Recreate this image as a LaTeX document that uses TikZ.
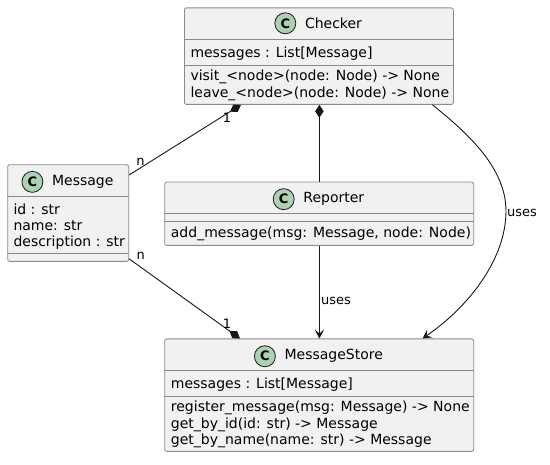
\documentclass[tikz,border=0pt]{standalone}
\usepackage{fontspec}
\setmainfont{DejaVu Sans}
\usetikzlibrary{arrows.meta,calc}
\definecolor{boxfill}{HTML}{F1F1F1}
\definecolor{lineclr}{HTML}{181818}
\definecolor{bordclr}{HTML}{8A8A8A}
\definecolor{circfill}{HTML}{ADD1B2}
\begin{document}
\begin{tikzpicture}[x=1pt,y=-1pt,
  classbox/.style={draw=bordclr, line width=0.8pt, fill=boxfill, rounded corners=2pt, anchor=north west, inner sep=0},
  sepline/.style={draw=bordclr, line width=0.8pt},
  member/.style={anchor=base west, inner sep=0, font=\fontsize{14}{16}\selectfont},
  cname/.style={anchor=base, inner sep=0, font=\fontsize{14}{16}\selectfont},
  cmark/.style={circle, draw=lineclr, line width=0.8pt, fill=circfill, minimum size=21pt, inner sep=0, font=\fontsize{13}{13}\selectfont\bfseries},
  rel/.style={draw=lineclr, line width=0.9pt},
  lbl/.style={inner sep=0, font=\fontsize{13}{13}\selectfont},
  comptip/.tip={Diamond[length=13pt,width=8.5pt]},
  usetip/.tip={Stealth[length=9pt,width=9.5pt,inset=4pt]}
]
\fill[white] (0,0) rectangle (550,465);
\useasboundingbox (0,0) rectangle (550,465);

% ---------- Checker ----------
\node[classbox, minimum width=269pt, minimum height=96.5pt] (checker) at (184,7.5) {};
\draw[sepline] ($(checker.north west)+(0,32)$) -- ($(checker.north east)+(0,32)$);
\draw[sepline] ($(checker.north west)+(0,58)$) -- ($(checker.north east)+(0,58)$);
\node[cname] (checkername) at (333.5,28.5) {Checker};
\node[cmark] (checkermark) at ($(checkername.west)+(-19.5,0)$) {C};
\node[member] (checkerattr) at (190.3,57.1) {messages : List[Message]};
\node[member] (checkerm1) at (190.3,81) {visit\_<node>(node: Node) -> None};
\node[member] (checkerm2) at (190.3,97.3) {leave\_<node>(node: Node) -> None};

% ---------- Message ----------
\node[classbox, minimum width=121pt, minimum height=96.7pt] (message) at (7.3,164.3) {};
\draw[sepline] ($(message.north west)+(0,32.4)$) -- ($(message.north east)+(0,32.4)$);
\draw[sepline] ($(message.north west)+(0,88.7)$) -- ($(message.north east)+(0,88.7)$);
\node[cname] (messagename) at (82.8,185.5) {Message};
\node[cmark] (messagemark) at ($(messagename.west)+(-19.5,0)$) {C};
\node[member] (messagea1) at (13.3,214.3) {id : str};
\node[member] (messagea2) at (13.3,230.6) {name: str};
\node[member] (messagea3) at (13.3,246.9) {description : str};

% ---------- Reporter ----------
\node[classbox, minimum width=309pt, minimum height=63.3pt] (reporter) at (164.3,181.7) {};
\draw[sepline] ($(reporter.north west)+(0,31.8)$) -- ($(reporter.north east)+(0,31.8)$);
\draw[sepline] ($(reporter.north west)+(0,39.8)$) -- ($(reporter.north east)+(0,39.8)$);
\node[cname] (reportername) at (333.8,202.8) {Reporter};
\node[cmark] (reportermark) at ($(reportername.west)+(-19.5,0)$) {C};
\node[member] (reporterm1) at (170.7,237.8) {add\_message(msg: Message, node: Node)};

% ---------- MessageStore ----------
\node[classbox, minimum width=309pt, minimum height=112.5pt] (store) at (164.3,338.5) {};
\draw[sepline] ($(store.north west)+(0,32.2)$) -- ($(store.north east)+(0,32.2)$);
\draw[sepline] ($(store.north west)+(0,58.2)$) -- ($(store.north east)+(0,58.2)$);
\node[cname] (storename) at (333.8,360) {MessageStore};
\node[cmark] (storemark) at ($(storename.west)+(-19.5,0)$) {C};
\node[member] (storea1) at (170.7,388.3) {messages : List[Message]};
\node[member] (storem1) at (170.7,412) {register\_message(msg: Message) -> None};
\node[member] (storem2) at (170.7,428.3) {get\_by\_id(id: str) -> Message};
\node[member] (storem3) at (170.7,444.6) {get\_by\_name(name: str) -> Message};

% ---------- Connectors ----------
\draw[rel, comptip-] ($(checker.south west)+(57,0)$) -- ($(message.north east)+(0,10.7)$);
\node[lbl] (l1) at (227,118) {1};
\node[lbl] (l2) at (140.5,161.5) {n};

\draw[rel, comptip-] ($(checker.south)+(0.5,0)$) -- ($(reporter.north)+(0.2,0)$);

\draw[rel, -comptip] ($(message.south east)+(0,-3)$) -- ($(store.north west)+(75.7,0)$);
\node[lbl] (l3) at (140.7,256) {n};
\node[lbl] (l4) at (227,323.5) {1};

\draw[rel, -usetip] ($(reporter.south)+(0.2,0)$) -- ($(store.north)+(0.2,0)$);
\node[lbl, anchor=west] (l5) at (321,300.7) {uses};

\draw[rel, -usetip] ($(checker.south east)+(-21.3,0)$) .. controls (462,129) and (506,165) .. (506,211)
  .. controls (506,258) and (470,306) .. ($(store.north east)+(-51.6,0)$);
\node[lbl, anchor=west] (l6) at (507,213) {uses};
\end{tikzpicture}
\end{document}
